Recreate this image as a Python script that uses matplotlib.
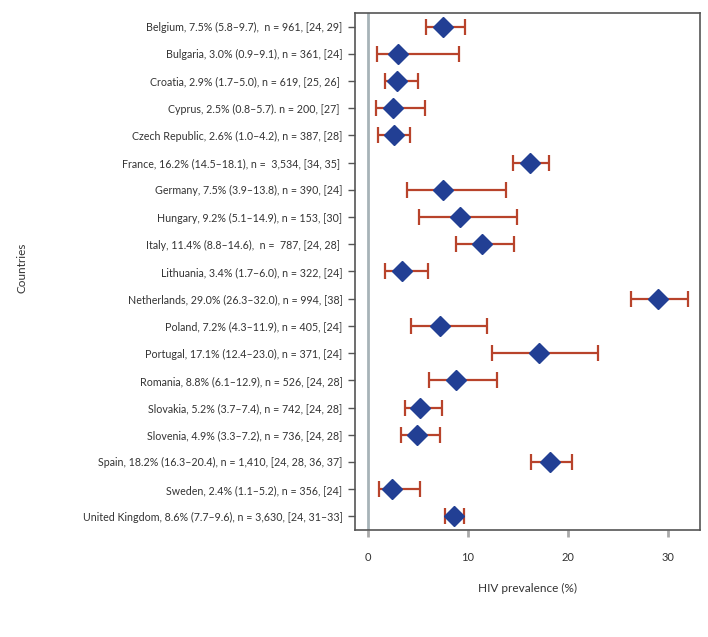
import numpy as np
import matplotlib.pyplot as plt

plt.rcParams['font.family'] = ['Lato', 'DejaVu Sans']

labels = [
    "Belgium, 7.5% (5.8\u20139.7),  n = 961, [24, 29]",
    "Bulgaria, 3.0% (0.9\u20139.1), n = 361, [24]",
    "Croatia, 2.9% (1.7\u20135.0), n = 619, [25, 26] ",
    "Cyprus, 2.5% (0.8\u20135.7). n = 200, [27] ",
    "Czech Republic, 2.6% (1.0\u20134.2), n = 387, [28]",
    "France, 16.2% (14.5\u201318.1), n =  3,534, [34, 35] ",
    "Germany, 7.5% (3.9\u201313.8), n = 390, [24]",
    "Hungary, 9.2% (5.1\u201314.9), n = 153, [30]",
    "Italy, 11.4% (8.8\u201314.6),  n =  787, [24, 28] ",
    "Lithuania, 3.4% (1.7\u20136.0), n = 322, [24]",
    "Netherlands, 29.0% (26.3\u201332.0), n = 994, [38]",
    "Poland, 7.2% (4.3\u201311.9), n = 405, [24]",
    "Portugal, 17.1% (12.4\u201323.0), n = 371, [24]",
    "Romania, 8.8% (6.1\u201312.9), n = 526, [24, 28]",
    "Slovakia, 5.2% (3.7\u20137.4), n = 742, [24, 28]",
    "Slovenia, 4.9% (3.3\u20137.2), n = 736, [24, 28]",
    "Spain, 18.2% (16.3\u201320.4), n = 1,410, [24, 28, 36, 37]",
    "Sweden, 2.4% (1.1\u20135.2), n = 356, [24]",
    "United Kingdom, 8.6% (7.7\u20139.6), n = 3,630, [24, 31\u201333]",
]
prev = [7.5, 3.0, 2.9, 2.5, 2.6, 16.2, 7.5, 9.2, 11.4, 3.4, 29.0, 7.2, 17.1, 8.8, 5.2, 4.9, 18.2, 2.4, 8.6]
low = [5.8, 0.9, 1.7, 0.8, 1.0, 14.5, 3.9, 5.1, 8.8, 1.7, 26.3, 4.3, 12.4, 6.1, 3.7, 3.3, 16.3, 1.1, 7.7]
high = [9.7, 9.1, 5.0, 5.7, 4.2, 18.1, 13.8, 14.9, 14.6, 6.0, 32.0, 11.9, 23.0, 12.9, 7.4, 7.2, 20.4, 5.2, 9.6]

prev = np.array(prev)
low = np.array(low)
high = np.array(high)
y = np.arange(len(labels))

fig = plt.figure(figsize=(7.08, 6.37), dpi=100)
ax = fig.add_axes([0.5014, 0.168, 0.4873, 0.8116])

ax.axvline(0, color='#a7b3b8', lw=2, zorder=1)
ax.errorbar(prev, y, xerr=[prev - low, high - prev], fmt='none',
            ecolor='#b8432b', elinewidth=1.6, capsize=6, capthick=1.6, zorder=2)
ax.plot(prev, y, 'D', color='#223f94', markersize=10, zorder=3)

ax.set_ylim(len(labels) - 0.5, -0.5)
ax.set_xlim(-1.3, 33.2)
ax.set_yticks(y)
ax.set_yticklabels(labels, fontsize=7.7, color='#333333')
ax.set_xticks([0, 10, 20, 30])
ax.set_xticklabels(['0', '10', '20', '30'], fontsize=8, color='#333333')
ax.tick_params(axis='y', length=5, width=1, color='#555555', pad=4)
ax.tick_params(axis='x', length=5, width=2, color='#aaaaaa', pad=11)
for s in ax.spines.values():
    s.set_color('#555555')
    s.set_linewidth(1.2)

ax.set_xlabel('HIV prevalence (%)', fontsize=8.5, color='#333333', labelpad=14)
fig.text(0.031, 0.58, 'Countries', rotation=90, fontsize=8.5, color='#333333',
         ha='center', va='center')

fig.savefig('out.png', dpi=100)
